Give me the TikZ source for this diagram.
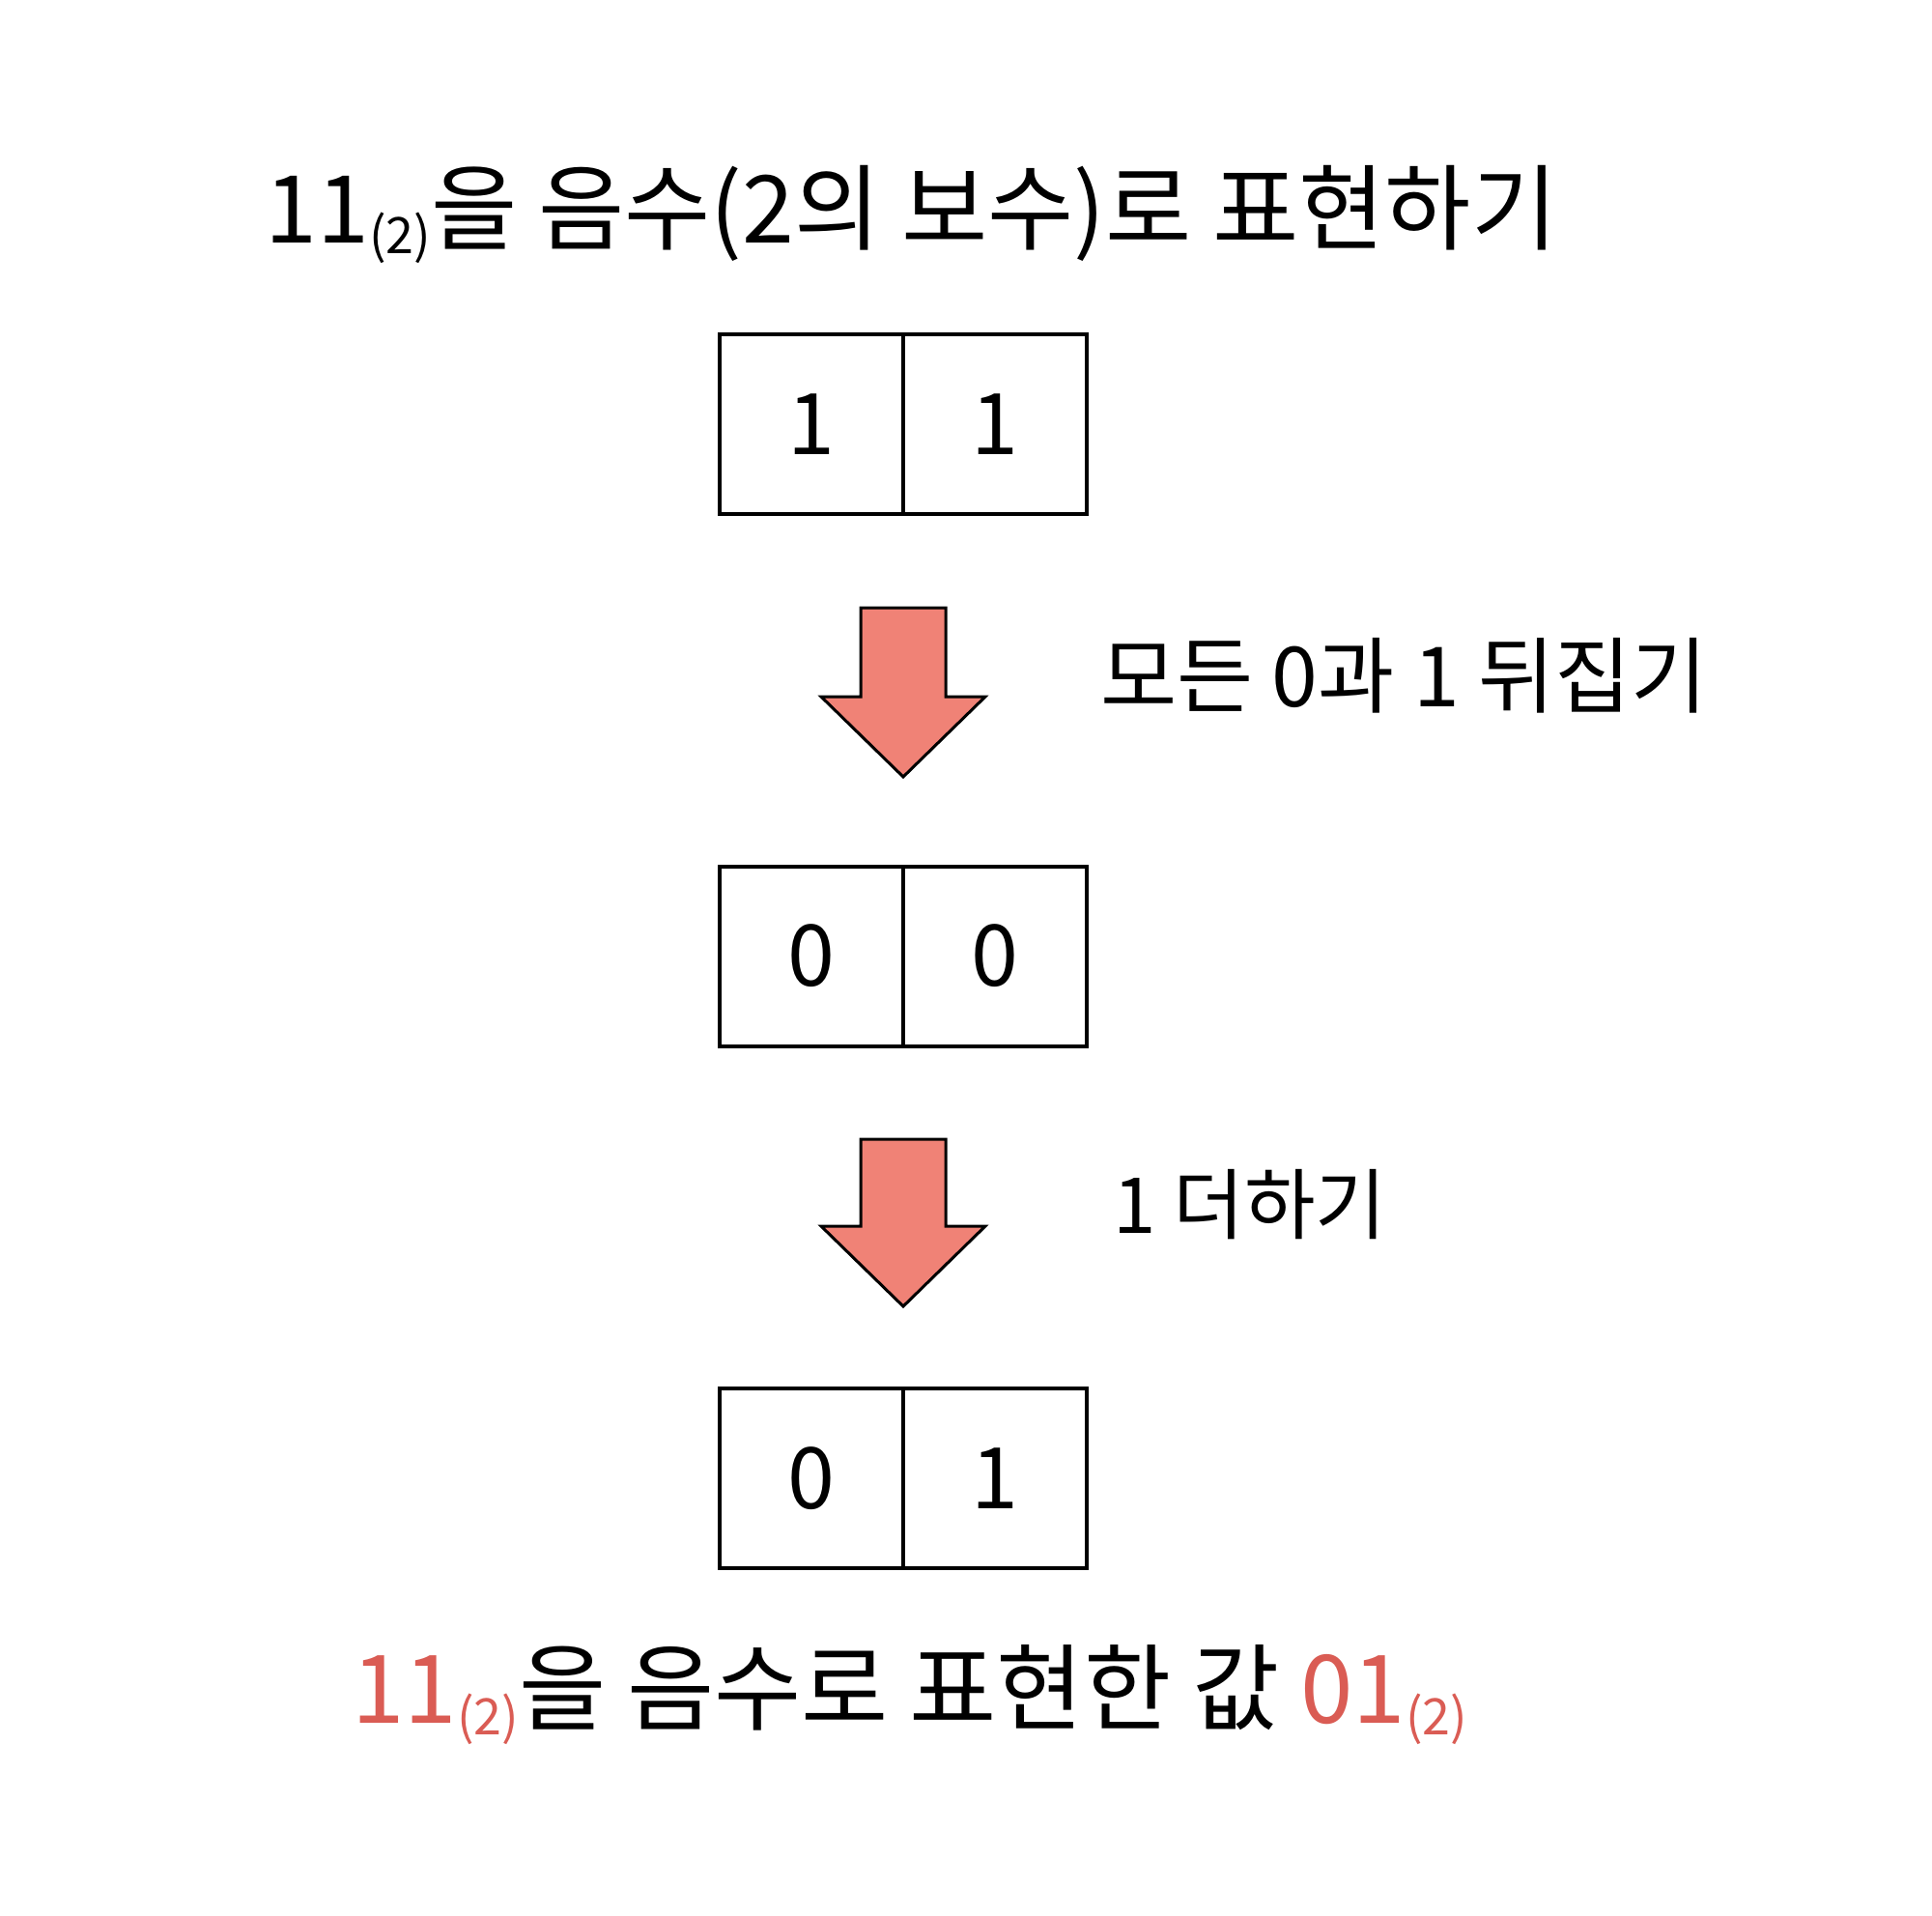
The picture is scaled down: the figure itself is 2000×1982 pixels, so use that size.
\documentclass[tikz,border=0pt]{standalone}
\usepackage{fontspec}
\setmainfont{Noto Sans CJK KR}
\definecolor{arrowfill}{RGB}{240,130,118}
\definecolor{hl}{RGB}{218,92,84}
\newcommand{\subtwo}{\raisebox{-0.12em}{\fontsize{26}{30}\selectfont(2)}}
\begin{document}
\begin{tikzpicture}[x=0.5pt,y=-0.5pt,
  cell/.style={draw,line width=2pt,minimum width=95pt,minimum height=93pt,inner sep=0pt,font=\fontsize{44}{50}\selectfont},
  bigtext/.style={anchor=west,inner sep=0pt,font=\fontsize{48.5}{56}\selectfont},
  lbltext/.style={anchor=west,inner sep=0pt,font=\fontsize{40}{48}\selectfont},
  blockarrow/.style={draw,line width=1.5pt,fill=arrowfill,line join=miter}]
\useasboundingbox[fill=white] (0,0) rectangle (2000,1982);
% title
\node[bigtext] (title) at (274,222) {11\subtwo 을 음수(2의 보수)로 표현하기};
% boxes
\node[cell] (b1a) at (840,439) {1};
\node[cell] (b1b) at (1030,439) {1};
\node[cell] (b2a) at (840,989.5) {0};
\node[cell] (b2b) at (1030,989.5) {0};
\node[cell] (b3a) at (840,1530) {0};
\node[cell] (b3b) at (1030,1530) {1};
% arrows
\draw[blockarrow] (891,629) -- (979,629) -- (979,721) -- (1020,721) -- (935,804) -- (850,721) -- (891,721) -- cycle;
\draw[blockarrow] (891,1179) -- (979,1179) -- (979,1269) -- (1020,1269) -- (935,1352) -- (850,1269) -- (891,1269) -- cycle;
% labels
\node[lbltext,font=\fontsize{43}{50}\selectfont] (l1) at (1139,699) {모든 0과 1 뒤집기};
\node[lbltext] (l2) at (1152,1247) {1 더하기};
% result
\node[bigtext,font=\fontsize{49}{56}\selectfont] (res) at (364,1754) {\textcolor{hl}{11\subtwo}을 음수로 표현한 값 \textcolor{hl}{01\subtwo}};
\end{tikzpicture}
\end{document}
